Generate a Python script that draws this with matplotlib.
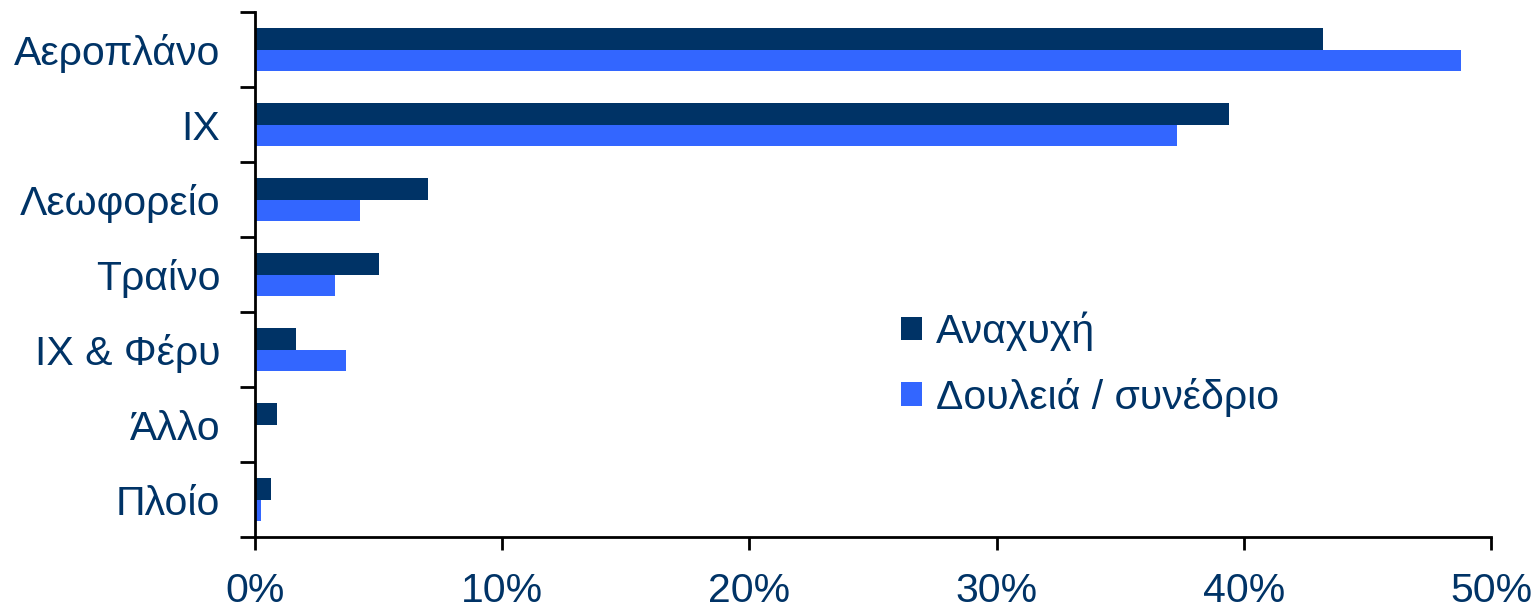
import numpy as np
import matplotlib.pyplot as plt
from matplotlib.ticker import FuncFormatter

plt.rcParams['font.family'] = ['Liberation Sans', 'DejaVu Sans']

categories = ["Αεροπλάνο", "ΙΧ", "Λεωφορείο", "Τραίνο", "ΙΧ & Φέρυ", "Άλλο", "Πλοίο"]
leisure = [43.2, 39.4, 7.0, 5.0, 1.65, 0.9, 0.65]
work = [48.8, 37.3, 4.25, 3.25, 3.7, 0.0, 0.25]
series_names = ["Αναχυχή", "Δουλειά / συνέδριο"]

dark = "#003366"
light = "#3366FF"
text_col = "#003366"
fs = 29.5

fig = plt.figure(figsize=(15.33, 6.11), dpi=100)
ax = fig.add_axes([0.1663, 0.121, 0.8063, 0.859])

y = np.arange(len(categories))
h = 0.29
ax.barh(y - h / 2, leisure, height=h, color=dark, label=series_names[0])
ax.barh(y + h / 2, work, height=h, color=light, label=series_names[1])

ax.set_ylim(len(categories) - 0.5, -0.5)
ax.set_xlim(0, 50)

ax.set_yticks(y)
ax.set_yticklabels(categories)
ax.set_yticks(np.arange(len(categories) + 1) - 0.5, minor=True)
ax.tick_params(axis='y', which='major', length=0, pad=25, labelsize=fs, labelcolor=text_col)
ax.tick_params(axis='y', which='minor', length=11, width=2, direction='out')

ax.set_xticks(np.arange(0, 51, 10))
ax.xaxis.set_major_formatter(FuncFormatter(lambda v, p: f"{v:.0f}%"))
ax.tick_params(axis='x', length=9, width=2, direction='out', pad=16, labelsize=fs, labelcolor=text_col)

for s in ['top', 'right']:
    ax.spines[s].set_visible(False)
for s in ['left', 'bottom']:
    ax.spines[s].set_linewidth(2)

ax.legend(loc='upper left', bbox_to_anchor=(0.493, 0.50), frameon=False, fontsize=fs,
          labelcolor=text_col, handlelength=0.5, handleheight=0.5, handletextpad=0.35,
          labelspacing=0.65)

fig.savefig("out.png", dpi=100)
